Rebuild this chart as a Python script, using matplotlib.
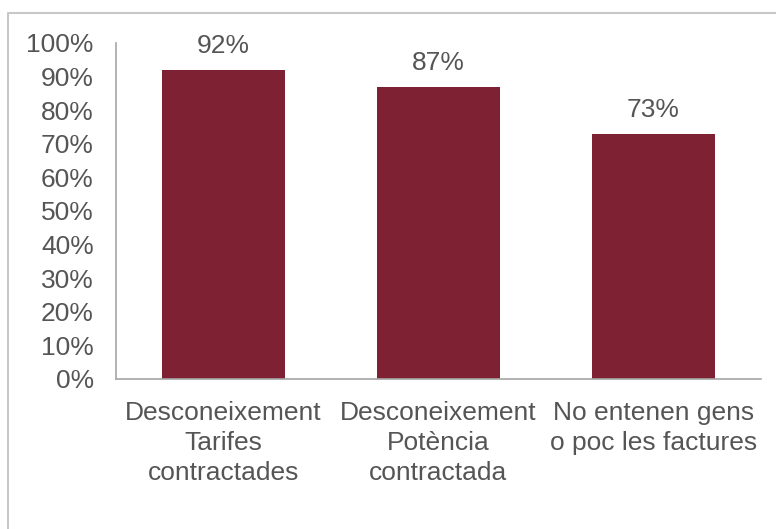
"""Bar chart: knowledge of the electricity bill."""
import matplotlib
matplotlib.use('Agg')
import matplotlib.pyplot as plt
from matplotlib.lines import Line2D

# data
categories = ['Desconeixement\nTarifes\ncontractades',
              'Desconeixement\nPotència\ncontractada',
              'No entenen gens\no poc les factures']
values = [0.92, 0.87, 0.73]
value_labels = ['92%', '87%', '73%']
yticks = [0.0, 0.1, 0.2, 0.3, 0.4, 0.5, 0.6, 0.7, 0.8, 0.9, 1.0]
ytick_labels = ['0%', '10%', '20%', '30%', '40%', '50%',
                '60%', '70%', '80%', '90%', '100%']

bar_color = '#7e2233'
text_color = '#555555'
fs = 19

plt.rcParams['font.family'] = ['Liberation Sans', 'DejaVu Sans']

fig = plt.figure(figsize=(7.76, 5.29), dpi=100)
ax = fig.add_axes([116 / 776, 1 - 379 / 529, 645 / 776, 336 / 529])

x = range(len(categories))
ax.bar(x, values, width=0.57, color=bar_color)
for xi, v, lab in zip(x, values, value_labels):
    ax.annotate(lab, (xi, v), xytext=(0, 12), textcoords='offset points',
                ha='center', va='baseline', fontsize=fs, color=text_color)

ax.set_xlim(-0.5, 2.5)
ax.set_ylim(0, 1)
ax.set_yticks(yticks)
ax.set_yticklabels(ytick_labels)
ax.set_xticks(list(x))
ax.set_xticklabels(categories, linespacing=1.32)
ax.tick_params(axis='y', length=0, pad=16, labelsize=fs,
               labelcolor=text_color)
ax.tick_params(axis='x', length=0, pad=16, labelsize=fs,
               labelcolor=text_color)

for side in ['top', 'right']:
    ax.spines[side].set_visible(False)
for side in ['left', 'bottom']:
    ax.spines[side].set_color('#a6a6a6')
    ax.spines[side].set_linewidth(1.2)

# chart frame (only top and left edges are visible in the crop)
fig.add_artist(Line2D([7.5 / 776, 7.5 / 776, 1.0], [0.0, 1 - 13 / 529, 1 - 13 / 529],
                      transform=fig.transFigure, color='#c8c8c8', linewidth=1.5))

fig.savefig('out.png', dpi=100)
